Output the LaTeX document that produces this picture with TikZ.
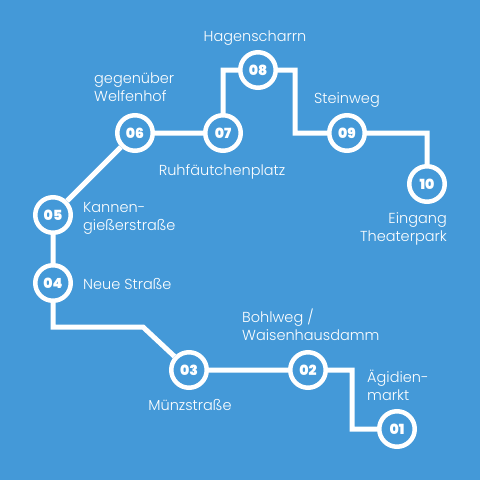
\documentclass[tikz,border=0pt]{standalone}
\usepackage{fontspec}
\setmainfont{Poppins Light}
\newfontfamily\numfont{Poppins Black}
\usetikzlibrary{positioning}
\definecolor{mapblue}{RGB}{68,153,216}

\begin{document}
\begin{tikzpicture}[x=1pt, y=-1pt,
    stop/.style={circle, draw=white, line width=4.5pt, fill=mapblue, minimum size=35.5pt, inner sep=0pt,
      text=white, font=\numfont\fontsize{14}{14}\selectfont},
    route/.style={draw=white, line width=5pt},
    lbl/.style={text=white, font=\fontsize{14.5}{18}\selectfont, inner sep=0pt, align=left}
]
\fill[mapblue] (0,0) rectangle (480,480);

% stops
\node[stop] (s01) at (397,429) {01};
\node[stop] (s02) at (308,370) {02};
\node[stop] (s03) at (189,370) {03};
\node[stop] (s04) at (53,283) {04};
\node[stop] (s05) at (53,215) {05};
\node[stop] (s06) at (135,133) {06};
\node[stop] (s07) at (223,133) {07};
\node[stop] (s08) at (258,70) {08};
\node[stop] (s09) at (347,133) {09};
\node[stop] (s10) at (427,184) {10};

\coordinate (c12) at (352,370);
\coordinate (c34) at (143,327);
\coordinate (c89) at (295,133);

\draw[route] (s01) -| (c12) -- (s02) -- (s03) -- (c34) -| (s04) -- (s05) -- (s06) -- (s07) |- (s08) -| (c89) -- (s09) -| (s10);

% labels
\node[lbl] (l08) at (255,38) {Hagenscharrn};
\node[lbl, anchor=west] (l06) at (94,87) {gegenüber\\Welfenhof};
\node[lbl, anchor=west] (l09) at (314,100) {Steinweg};
\node[lbl] (l07) at (222,172) {Ruhfäutchenplatz};
\node[lbl, anchor=west] (l05) at (83,218) {Kannen-\\gießerstraße};
\node[lbl, anchor=east, align=right] (l10) at (447,229) {Eingang\\Theaterpark};
\node[lbl, anchor=west] (l04) at (83,284) {Neue Straße};
\node[lbl, anchor=west] (l02) at (242,325) {Bohlweg /\\Waisenhausdamm};
\node[lbl, anchor=west] (l01) at (367,385) {Ägidien-\\markt};
\node[lbl] (l03) at (190,405) {Münzstraße};
\end{tikzpicture}
\end{document}
